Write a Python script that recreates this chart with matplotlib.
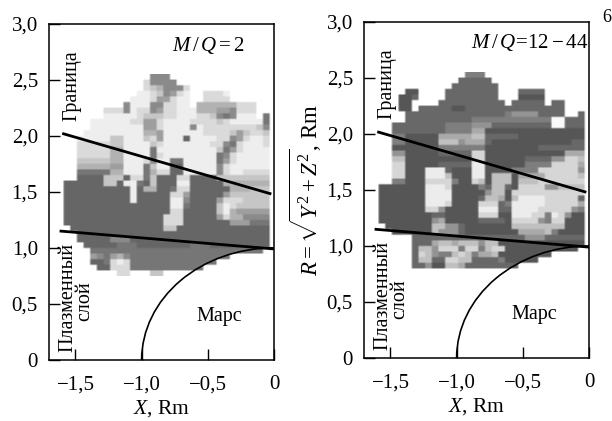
import numpy as np
import matplotlib
matplotlib.use('Agg')
import matplotlib.pyplot as plt
from matplotlib.patches import Circle

plt.rcParams['font.family'] = ['Liberation Serif', 'DejaVu Serif']
plt.rcParams['mathtext.fontset'] = 'custom'
plt.rcParams['mathtext.rm'] = 'Liberation Serif'
plt.rcParams['mathtext.it'] = 'Liberation Serif:italic'

x_ticks = [-1.5, -1.0, -0.5, 0]
x_tick_labels = ['\u22121,5', '\u22121,0', '\u22120,5', '0']
y_ticks = [0, 0.5, 1.0, 1.5, 2.0, 2.5, 3.0]
y_tick_labels = ['0', '0,5', '1,0', '1,5', '2,0', '2,5', '3,0']

# grey level per cell, 0 light .. 8 dark, '.' no data; top row first
levels_left = [
    "..... ..... ....6 66... ..... ..... ...",
    "..... ..... ...26 666.. ..... ..... ...",
    "..... ..... ...23 46662 ..... ..... ...",
    "..... ..... ..112 36521 ..222 1.... ...",
    "..... ..... .1112 55211 ..222 2.... ...",
    "..... ..... 61116 62211 .4444 44222 ...",
    "..... ..222 61226 52211 14445 56222 ...",
    "..... ..111 11233 32211 12236 76111 .7.",
    "..... 11111 12255 21111 22223 21111 17.",
    "..... 11111 11155 21111 61222 22222 36.",
    "....1 11111 11144 51111 11222 23532 23.",
    "...11 11133 11132 51118 11112 26521 12.",
    "...22 22233 11113 21111 11122 67211 12.",
    "...22 22244 11117 11111 11113 75211 11.",
    "...22 22244 11117 21111 11117 62111 11.",
    "...33 33344 11126 11771 11117 52111 11.",
    "...44 44455 11173 11881 11116 21111 11.",
    "...77 77744 11174 22881 11116 21122 22.",
    "...88 88333 82273 88822 88883 33333 33.",
    ".8888 88338 11783 88811 88888 44444 44.",
    ".8888 88888 81844 88722 88888 84443 33.",
    ".8888 88888 81888 88225 88888 53333 33.",
    ".8888 88888 81888 88116 88885 22233 33.",
    ".8888 88888 88888 88117 88883 12333 33.",
    ".8888 88888 88888 88228 88883 14555 55.",
    ".8888 88888 88888 82228 88885 24466 66.",
    ".8888 88888 88888 82228 88888 85557 77.",
    "..888 88888 88888 83388 88888 88888 88.",
    "...88 88888 88888 88888 88888 88888 88.",
    "...88 88866 68888 88888 88888 88888 88.",
    "....8 88887 77888 88888 77788 88888 88.",
    "..... 77777 77777 77777 77777 77777 7..",
    "..... 56754 67777 77777 77777 7.... ...",
    "..... 88721 27777 77777 7777. ..... ...",
    "..... .8822 27777 77777 77... ..... ...",
    "..... ....2 2...3 3.... ..... ..... ...",
]
levels_right = [
    "..... ..... ....6 66... ..... ..... ...",
    "..... ..... ...77 777.. ..... ..... ...",
    "..... ..... ..777 7777. ..... ..... ...",
    "..... 88... .7777 7777. ..777 7.... ...",
    "....8 87... .7777 7777. ..888 8.... ...",
    "....8 8.... 77777 77777 .7777 7.77. ...",
    "....8 8.777 77887 77777 77777 7777. ...",
    "..... 77777 77777 77777 65555 7777. .7.",
    "..... 77777 77777 66666 66666 66007 77.",
    "...77 77777 76666 55577 77777 77007 77.",
    "...77 77777 76666 44888 88888 88888 88.",
    "...66 88888 44444 33777 77888 88888 88.",
    "...66 88888 33354 44788 88888 88888 77.",
    "...88 88888 66666 66888 88888 77777 77.",
    "...55 88888 77777 22888 88888 88884 44.",
    "...33 88888 88888 22888 88877 77552 23.",
    "...22 88888 77777 11888 88866 66222 24.",
    "...22 88811 17888 11888 86666 22222 25.",
    "...22 88811 13888 11833 38444 42222 23.",
    "...66 88822 22688 23833 38333 22222 22.",
    ".8888 88811 12888 86733 78222 25533 33.",
    ".8888 88811 11888 88533 82222 22222 22.",
    ".8888 88811 11888 87334 83111 12222 27.",
    ".8888 88811 12888 82227 61111 12222 24.",
    ".8888 88822 58888 81117 71111 22222 56.",
    ".8888 88887 78888 82228 81112 26125 88.",
    ".8888 88885 48888 87777 82222 56228 88.",
    "..888 88883 35578 88888 83333 33338 88.",
    "...88 88883 55578 88888 88444 43688 88.",
    "..... .7777 77777 77777 77755 57777 77.",
    "..... .7774 33433 35338 88888 88888 88.",
    "..... .7335 22262 26322 88888 88888 8..",
    "..... .7235 66323 64438 88888 88... ...",
    "..... .7337 72233 77776 88888 ..... ...",
    "..... .7758 83347 77777 77... ..... ...",
    "..... ..... ..... ..... ..... ..... ...",
]

# grey value of each level
shades = [250, 238, 218, 198, 178, 158, 138, 118, 102]

# boundary and plasma sheet lines
upper_x = [-1.6, -0.02]
upper_y = [2.02, 1.48]
lower_x = [-1.62, 0]
lower_y = [1.15, 0.99]


def parse(rows, darken):
    out = []
    for row in rows:
        row = row.replace(' ', '')
        out.append([255 if c == '.' else shades[int(c)] - darken * int(c) for c in row])
    return np.array(out, dtype=float)


def panel(ax, rows, darken, title, title_x, title_y):
    grid = parse(rows, darken)
    x0, x1 = -1.64, -1.64 + 0.05 * grid.shape[1]
    y1, y0 = 2.55, 2.55 - 0.05 * grid.shape[0]
    # repeat cells so bilinear only softens the block edges a little
    fine = np.repeat(np.repeat(grid, 3, axis=0), 3, axis=1)
    ax.imshow(fine, cmap='gray', vmin=0, vmax=255, extent=(x0, x1, y0, y1),
              aspect='auto', interpolation='bilinear', zorder=1)
    ax.plot(upper_x, upper_y, color='black', lw=2.0, solid_capstyle='butt', zorder=3)
    ax.plot(lower_x, lower_y, color='black', lw=2.0, solid_capstyle='butt', zorder=3)
    ax.add_patch(Circle((0, 0), 1.0, fill=False, edgecolor='black', lw=1.2, zorder=3))
    ax.set_xlim(-1.70, 0)
    ax.set_ylim(0, 3.0)
    ax.set_xticks(x_ticks)
    ax.set_xticklabels(x_tick_labels, fontsize=15)
    ax.set_yticks(y_ticks)
    ax.set_yticklabels(y_tick_labels, fontsize=15)
    ax.tick_params(axis='x', direction='in', length=8, width=1, pad=11)
    ax.tick_params(axis='y', direction='in', length=8, width=1, pad=8)
    for s in ax.spines.values():
        s.set_linewidth(1.1)
    ax.set_xlabel(r'$X$, Rm', fontsize=15.5, labelpad=3)
    ax.text(title_x, title_y, title, fontsize=15, ha='center', va='center')
    ax.text(-1.53, 2.45, 'Граница', rotation=90, fontsize=14.5, ha='center', va='center')
    ax.text(-1.56, 0.555, 'Плазменный', rotation=90, fontsize=14.5, ha='center', va='center')
    ax.text(-1.43, 0.525, 'слой', rotation=90, fontsize=14.5, ha='center', va='center')
    ax.text(-0.41, 0.385, 'Марс', fontsize=14.5, ha='center', va='center')


fig = plt.figure(figsize=(6.12, 4.21), dpi=100)
W, H = 612.0, 421.0
ax1 = fig.add_axes([49 / W, 1 - 360 / H, 225 / W, 336.5 / H])
ax2 = fig.add_axes([364 / W, 1 - 358 / H, 225 / W, 336 / H])
panel(ax1, levels_left, 0, r'$M\,/\,Q=2$', -0.50, 2.80)
panel(ax2, levels_right, 2, r'$M\,/\,Q\!=\!12-44$', -0.45, 2.82)
ax2.set_ylabel(r'$R=\sqrt{Y^2+Z^2}$, Rm', fontsize=16.5, labelpad=2)
fig.text(607 / W, 1 - 17 / H, '6', fontsize=13, ha='center', va='center')

fig.savefig('out.png', dpi=100)
